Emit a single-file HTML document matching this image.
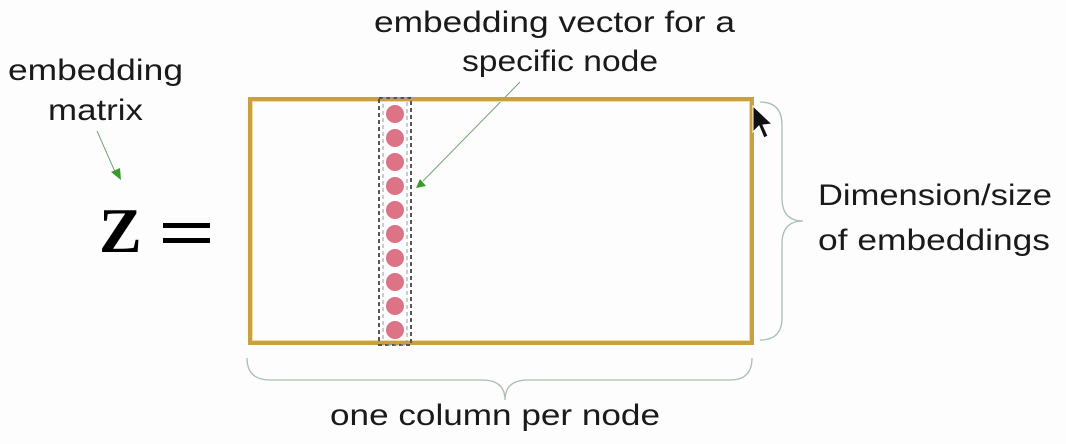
<!DOCTYPE html>
<html><head><meta charset="utf-8"><style>html,body{margin:0;padding:0;background:#fff}svg{display:block}</style></head>
<body>
<svg width="1066" height="444" viewBox="0 0 1066 444" xmlns="http://www.w3.org/2000/svg" font-family="Liberation Sans, sans-serif" fill="#1a1a1a">
<rect width="1066" height="444" fill="#fdfdfd"/>
<g font-size="30">
<text x="374" y="32" textLength="361" lengthAdjust="spacingAndGlyphs">embedding vector for a</text>
<text x="462" y="71" textLength="196" lengthAdjust="spacingAndGlyphs">specific node</text>
<text x="8" y="80" textLength="175" lengthAdjust="spacingAndGlyphs">embedding</text>
<text x="48" y="120" textLength="95" lengthAdjust="spacingAndGlyphs">matrix</text>
<text x="818" y="205" textLength="234" lengthAdjust="spacingAndGlyphs">Dimension/size</text>
<text x="818" y="250" textLength="232" lengthAdjust="spacingAndGlyphs">of embeddings</text>
<text x="330" y="425" textLength="330" lengthAdjust="spacingAndGlyphs">one column per node</text>
</g>
<text x="99" y="252" font-family="Liberation Serif, serif" font-weight="bold" font-size="64" fill="#000">Z</text>
<rect x="163" y="223" width="47" height="5" fill="#000"/>
<rect x="163" y="238" width="47" height="5" fill="#000"/>
<!-- arrows -->
<line x1="97" y1="131" x2="116" y2="174" stroke="#7aa07a" stroke-width="1"/>
<polygon points="111,172 121,180 120,168" fill="#3a9a2a"/>
<line x1="520" y1="82" x2="423" y2="181" stroke="#7aa07a" stroke-width="1"/>
<polygon points="416,188 426,186 420,179" fill="#3a9a2a"/>
<!-- matrix -->
<rect x="250" y="99" width="502" height="244" fill="none" stroke="#c9a040" stroke-width="4"/>
<rect x="252.5" y="101.5" width="497" height="239" fill="none" stroke="#f0dca0" stroke-width="1"/>
<!-- dashed column -->
<rect x="379" y="98" width="32" height="247" fill="none" stroke="#555" stroke-width="2" stroke-dasharray="4,3"/>
<rect x="383" y="98" width="24" height="247" fill="none" stroke="#999" stroke-width="1" stroke-dasharray="4,3"/>
<g fill="#dc7485">
<circle cx="395" cy="114" r="9"/><circle cx="395" cy="138" r="9"/><circle cx="395" cy="162" r="9"/><circle cx="395" cy="186" r="9"/><circle cx="395" cy="210" r="9"/><circle cx="395" cy="234" r="9"/><circle cx="395" cy="258" r="9"/><circle cx="395" cy="282" r="9"/><circle cx="395" cy="306" r="9"/><circle cx="395" cy="330" r="9"/>
</g>
<!-- braces -->
<path d="M760,102 Q782,102 782,125 L782,198 Q782,221 803,221 Q782,221 782,244 L782,318 Q782,340 760,340" fill="none" stroke="#a8c0b0" stroke-width="1.3"/>
<path d="M247,358 Q247,380 270,380 L482,380 Q505,380 505,400 Q505,380 528,380 L730,380 Q752,380 752,358" fill="none" stroke="#a8c0b0" stroke-width="1.3"/>
<!-- cursor -->
<polygon points="753,106 753,132 759,126 764,138 768,136 763,125 772,124" fill="#111" stroke="#fff" stroke-width="1"/>
</svg>
</body></html>
